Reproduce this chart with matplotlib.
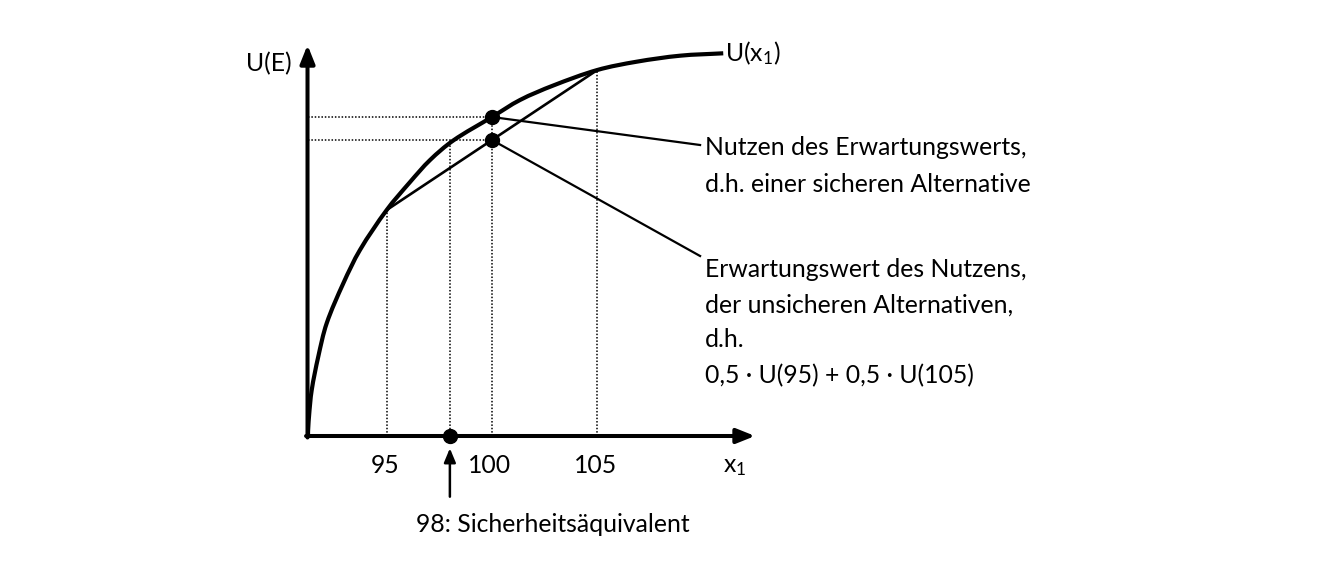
import numpy as np
import matplotlib
matplotlib.use("Agg")
import matplotlib.pyplot as plt
from matplotlib.path import Path
from matplotlib.patches import PathPatch

plt.rcParams['font.family'] = ['Lato', 'DejaVu Sans']
plt.rcParams['mathtext.default'] = 'regular'

# values (x in money units, U in utility units)
x_low, x_ce, x_mean, x_high = 95, 98, 100, 105
u_low, u_mean, u_high = 22.6, 31.9, 36.6
eu = 0.5 * u_low + 0.5 * u_high          # expected utility = U(98)

# points along the drawn utility curve
curve_x = [91.263, 91.31, 91.44, 91.75, 92.15, 92.94, 93.73, 95.0, 96.11,
           97.06, 98.16, 100.0, 101.33, 102.91, 105.0, 106.87, 108.93, 110.98]
curve_u = [0.0, 1.93, 4.6, 7.93, 11.27, 15.27, 18.6, 22.6, 25.4,
           27.6, 29.55, 31.9, 33.6, 35.05, 36.6, 37.43, 38.03, 38.27]

tick_vals = [95, 100, 105]
tick_text = ['95', '100', '105']

label_top = ['Nutzen des Erwartungswerts,', 'd.h. einer sicheren Alternative']
label_bottom = ['Erwartungswert des Nutzens,', 'der unsicheren Alternativen,', 'd.h.',
                '0,5 · U(95) + 0,5 · U(105)']

# axis frame of the sketch
x0, u0 = 91.24, 0.0
x_tip, u_tip = 112.49, 39.1

px_per_x, px_per_u = 21.06, 10.0

fig = plt.figure(figsize=(13.32, 5.68), dpi=100)
ax = fig.add_axes([0, 0, 1, 1])
ax.set_xlim(95 - 386.7 / px_per_x, 95 + (1332 - 386.7) / px_per_x)
ax.set_ylim(43.6 - 56.8, 43.6)
ax.axis('off')

fs = 17.8


def smooth_path(xs, us):
    # cubic Bezier through the read points (tangents from neighbours)
    p = np.column_stack([np.asarray(xs) * px_per_x, np.asarray(us) * px_per_u])
    n = len(p)
    tang = np.zeros_like(p)
    tang[0] = [0.0, 1.0]
    tang[-1] = p[-1] - p[-2]
    for i in range(1, n - 1):
        tang[i] = p[i + 1] - p[i - 1]
    tang /= np.linalg.norm(tang, axis=1)[:, None]
    verts, codes = [p[0]], [Path.MOVETO]
    for i in range(n - 1):
        d = np.linalg.norm(p[i + 1] - p[i]) / 3
        verts += [p[i] + tang[i] * d, p[i + 1] - tang[i + 1] * d, p[i + 1]]
        codes += [Path.CURVE4] * 3
    verts = np.array(verts) / [px_per_x, px_per_u]
    return Path(verts, codes)


# axes with arrows
arrow_style = '-|>,head_length=0.55,head_width=0.22'
ax.annotate('', xy=(x0, u_tip), xytext=(x0, u0 - 0.15),
            arrowprops=dict(arrowstyle=arrow_style, mutation_scale=20, lw=2.9,
                            color='black', shrinkA=0, shrinkB=0))
ax.annotate('', xy=(x_tip, u0), xytext=(x0 - 0.07, u0),
            arrowprops=dict(arrowstyle=arrow_style, mutation_scale=20, lw=2.9,
                            color='black', shrinkA=0, shrinkB=0))

# dotted guide lines
dot = dict(color='black', lw=1.1, linestyle=(0, (1, 1.2)))
ax.plot([x0, x_mean], [u_mean, u_mean], **dot)
ax.plot([x0, x_mean], [eu, eu], **dot)
for xv, uv in [(x_low, u_low), (x_ce, eu), (x_mean, u_mean), (x_high, u_high)]:
    ax.plot([xv, xv], [0, uv], **dot)

# chord between the two uncertain outcomes
ax.plot([x_low, x_high], [u_low, u_high], color='black', lw=1.9,
        solid_capstyle='round')

# utility curve
ax.add_patch(PathPatch(smooth_path(curve_x, curve_u), fill=False,
                       edgecolor='black', lw=3.0, capstyle='butt'))

# leader lines
ax.plot([x_mean, 109.88], [u_mean, 29.1], color='black', lw=1.6)
ax.plot([x_mean, 109.88], [eu, 18.0], color='black', lw=1.6)

# points
ax.plot([x_mean, x_mean, x_ce], [u_mean, eu, 0], 'o', color='black', ms=10,
        zorder=5)

# texts
ax.text(89.41, 37.2, 'U(E)', fontsize=fs, ha='center', va='center')
ax.text(111.05, 38.3, 'U(x$_{1}$)', fontsize=fs, ha='left', va='center')
for xv, t in zip(tick_vals, tick_text):
    ax.text(xv - 0.1, -2.95, t, fontsize=fs, ha='center', va='center')
ax.text(111.5, -3.1, 'x$_{1}$', fontsize=fs, ha='center', va='center')

ax.annotate('', xy=(98.0, -1.23), xytext=(98.0, -6.07),
            arrowprops=dict(arrowstyle='-|>,head_length=0.6,head_width=0.25',
                            mutation_scale=14, lw=1.8, color='black',
                            shrinkA=0, shrinkB=0))
ax.text(102.9, -8.9, '98: Sicherheitsäquivalent', fontsize=fs, ha='center',
        va='center')

for t, ub in zip(label_top, [28.1, 24.43]):
    ax.text(110.11, ub, t, fontsize=fs, ha='left', va='baseline')
for t, ub in zip(label_bottom, [15.93, 12.33, 8.9, 5.3]):
    ax.text(110.11, ub, t, fontsize=fs, ha='left', va='baseline')

fig.savefig('out.png', dpi=100, facecolor='white')
